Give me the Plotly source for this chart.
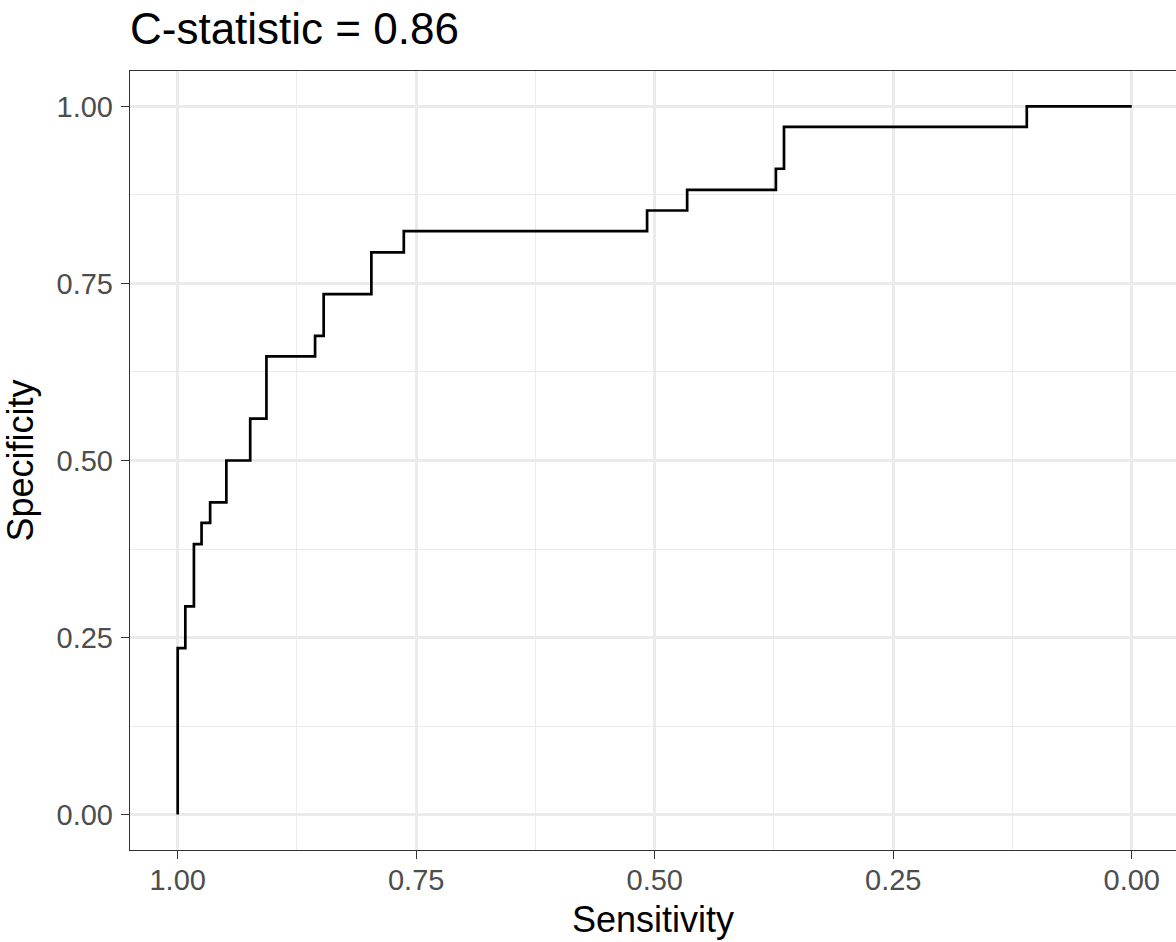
import plotly.graph_objects as go

# ROC curve vertices (tops of each vertical step)
sensitivity = [1.0, 1.0, 0.992, 0.983, 0.975, 0.966, 0.949, 0.924, 0.907, 0.856,
               0.847, 0.797, 0.763, 0.508, 0.466, 0.373, 0.3645, 0.110, 0.0]
specificity = [0.0, 0.235, 0.294, 0.382, 0.412, 0.441, 0.5, 0.559, 0.647, 0.676,
               0.735, 0.794, 0.824, 0.853, 0.882, 0.912, 0.971, 1.0, 1.0]

tick_vals = [0.0, 0.25, 0.5, 0.75, 1.0]
tick_text = ["0.00", "0.25", "0.50", "0.75", "1.00"]
title_text = "C-statistic = 0.86"

FONT = "Liberation Sans, Arial, sans-serif"

fig = go.Figure()
fig.add_trace(go.Scatter(
    x=sensitivity, y=specificity, mode="lines",
    line=dict(color="black", width=2.7, shape="hv"),
    showlegend=False, hoverinfo="skip"))

axis_common = dict(
    tickvals=tick_vals, ticktext=tick_text,
    showgrid=True, gridcolor="#EBEBEB", gridwidth=2.8,
    minor=dict(dtick=0.125, tick0=0, showgrid=True, gridcolor="#EBEBEB",
               gridwidth=1.4, ticks=""),
    zeroline=False,
    showline=True, mirror=True, linecolor="#333333", linewidth=1.4,
    ticks="outside", ticklen=8, tickwidth=1.4, tickcolor="#333333",
    tickfont=dict(family=FONT, size=29, color="#4D4D4D"),
)

fig.update_layout(
    width=1176, height=942,
    margin=dict(l=130, r=0, t=71, b=92),
    paper_bgcolor="white", plot_bgcolor="white",
    title=dict(text=title_text, x=130/1176, xref="container", xanchor="left",
               y=1 - 29/942, yref="container", yanchor="middle",
               font=dict(family=FONT, size=44, color="black")),
    xaxis=dict(range=[1.05, -0.0464], autorange=False,
               ticklabelstandoff=-4,
               title=dict(text="Sensitivity", standoff=11,
                          font=dict(family=FONT, size=36, color="black")),
               **axis_common),
    yaxis=dict(range=[-0.05, 1.05], autorange=False,
               ticklabelstandoff=2,
               title=dict(text="Specificity", standoff=14,
                          font=dict(family=FONT, size=36, color="black")),
               **axis_common),
)

fig.write_html(
    "out.html",
    config={"displayModeBar": False},
    post_script="document.body.style.margin='0';document.body.style.overflow='hidden';")
